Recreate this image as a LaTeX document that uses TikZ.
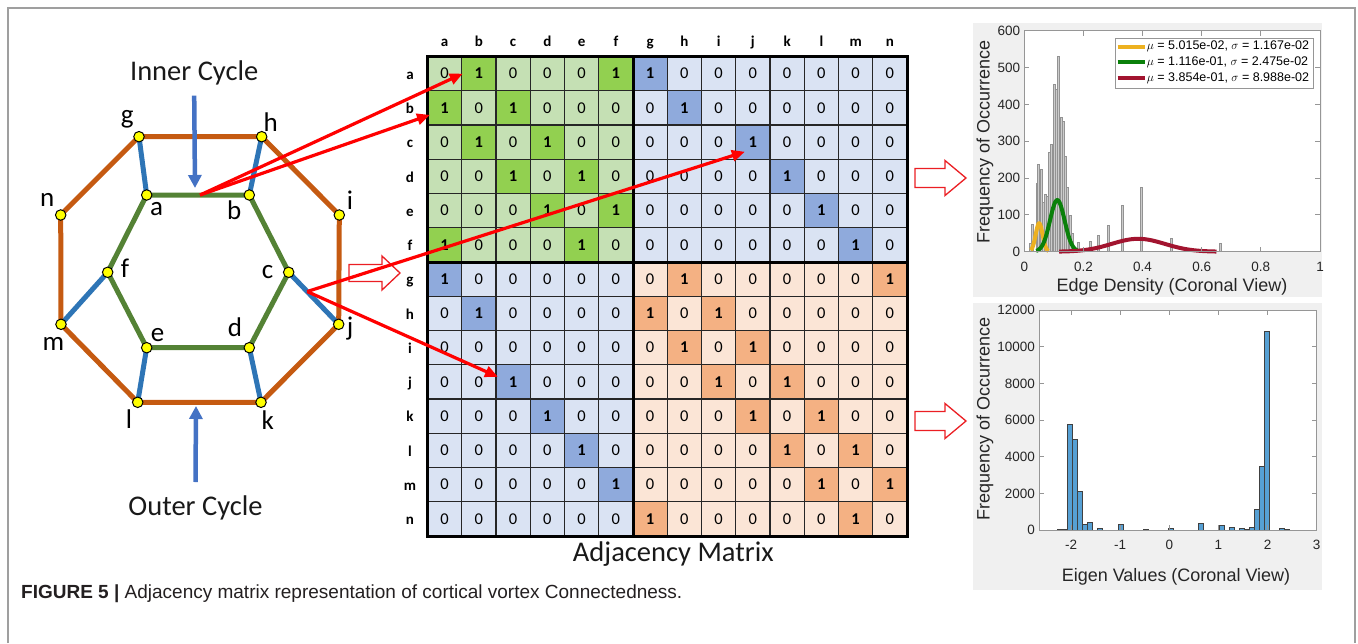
\documentclass[tikz,border=0pt]{standalone}
\usepackage{fontspec}
\setmainfont{Carlito}
\newfontfamily\arialf{Liberation Sans}
\usetikzlibrary{arrows.meta,backgrounds,calc}
\definecolor{orangeE}{RGB}{197,90,17}
\definecolor{greenE}{RGB}{84,130,53}
\definecolor{blueE}{RGB}{46,117,182}
\definecolor{arrowblue}{RGB}{68,114,196}
\definecolor{vyellow}{RGB}{255,255,0}
\definecolor{c1L}{RGB}{197,224,180}
\definecolor{c1D}{RGB}{146,208,80}
\definecolor{c2L}{RGB}{218,227,243}
\definecolor{c2D}{RGB}{143,170,220}
\definecolor{c3L}{RGB}{251,229,214}
\definecolor{c3D}{RGB}{244,177,131}
\definecolor{panel}{RGB}{240,240,240}
\definecolor{axtext}{RGB}{38,38,38}
\definecolor{axline}{RGB}{150,150,150}
\definecolor{myyellow}{RGB}{237,177,32}
\definecolor{mygreen}{RGB}{10,128,10}
\definecolor{mydred}{RGB}{162,20,47}
\definecolor{histblue}{RGB}{86,160,212}
\definecolor{capgray}{RGB}{35,31,32}
\definecolor{pureRed}{RGB}{255,0,0}
\definecolor{hollowred}{RGB}{235,30,35}
\begin{document}
\begin{tikzpicture}[x=1pt,y=-1pt,
  vtx/.style={circle,fill=vyellow,draw=black,line width=1pt,minimum size=10.5pt,inner sep=0pt},
  outeredge/.style={draw=orangeE,line width=5pt},
  inneredge/.style={draw=greenE,line width=5pt},
  spoke/.style={draw=blueE,line width=5pt},
  vlabel/.style={font=\fontsize{27}{30}\selectfont,anchor=base,inner sep=0pt},
  biglabel/.style={font=\fontsize{28.5}{32}\selectfont,anchor=base,inner sep=0pt,text=black!90},
  bluearrow/.style={draw=arrowblue,line width=4.5pt,-{Triangle[length=13pt,width=13pt]}},
  redarrow/.style={draw=pureRed,line width=3.2pt,-{Triangle[length=13pt,width=11pt]}},
  hollow/.style={draw=hollowred,line width=1.3pt,fill=white,line join=miter},
  cell/.style={draw=black!85,line width=1.1pt,minimum size=34.25pt,inner sep=0pt,outer sep=0pt,font=\fontsize{16.5}{18}\selectfont},
  hdr/.style={font=\bfseries\fontsize{15}{17}\selectfont,anchor=base,inner sep=0pt},
  hbar/.style={fill=gray!40,draw=gray!85,line width=0.6pt},
  bbar/.style={fill=histblue,draw=black!75,line width=0.6pt},
  axbox/.style={draw=axline,line width=0.8pt},
  ticklbl/.style={font=\arialf\fontsize{13.5}{15}\selectfont,text=axtext,inner sep=0pt},
  axlabel/.style={font=\arialf\fontsize{18}{20}\selectfont,text=axtext,inner sep=0pt},
  leglbl/.style={font=\arialf\fontsize{12.5}{14}\selectfont,text=black,inner sep=0pt,anchor=west},
  curve/.style={line width=4pt}
]
\useasboundingbox (0,0) rectangle (1358,643);
% frame
\draw[gray!75,line width=1.5pt] (8,643) -- (8,8) -- (1355,8) -- (1355,643);

% ---------------- graph ----------------
\node[vtx] (g) at (139,136.7) {};
\node[vtx] (h) at (261.7,136.7) {};
\node[vtx] (i) at (339.3,215) {};
\node[vtx] (j) at (338.7,324.3) {};
\node[vtx] (k) at (261,402.3) {};
\node[vtx] (l) at (137.7,402.3) {};
\node[vtx] (m) at (61,324.3) {};
\node[vtx] (n) at (60.7,215) {};
\node[vtx] (a) at (146.7,195) {};
\node[vtx] (b) at (249.3,195) {};
\node[vtx] (c) at (288.7,272.3) {};
\node[vtx] (d) at (249.3,347.7) {};
\node[vtx] (e) at (146.7,347.7) {};
\node[vtx] (f) at (107.7,272.3) {};
\begin{scope}[on background layer]
  \draw[outeredge] (g.center) -- (h.center) -- (i.center) -- (j.center) -- (k.center) -- (l.center) -- (m.center) -- (n.center) -- cycle;
  \draw[inneredge] (a.center) -- (b.center) -- (c.center) -- (d.center) -- (e.center) -- (f.center) -- cycle;
  \draw[spoke] (a.center) -- (g.center);
  \draw[spoke] (b.center) -- (h.center);
  \draw[spoke] (c.center) -- (j.center);
  \draw[spoke] (d.center) -- (k.center);
  \draw[spoke] (e.center) -- (l.center);
  \draw[spoke] (f.center) -- (m.center);
\end{scope}
\node[vlabel] (lg) at (127.3,123.3) {g};
\node[vlabel] (lh) at (270.7,131.7) {h};
\node[vlabel] (ln) at (47.3,206) {n};
\node[vlabel] (li) at (350,209.3) {i};
\node[vlabel] (la) at (156.7,215) {a};
\node[vlabel] (lb) at (234.3,219) {b};
\node[vlabel] (lf) at (125,277.3) {f};
\node[vlabel] (lc) at (267.7,278.3) {c};
\node[vlabel] (lm) at (53.3,350) {m};
\node[vlabel] (lj) at (350,335) {j};
\node[vlabel] (le) at (157.7,341) {e};
\node[vlabel] (ld) at (235,336.7) {d};
\node[vlabel] (ll) at (129,428.3) {l};
\node[vlabel] (lk) at (267.7,429.3) {k};

\node[biglabel] (innerlbl) at (194.2,80.7) {Inner Cycle};
\node[biglabel] (outerlbl) at (195.5,515.7) {Outer Cycle};
\coordinate (innertip) at (195,188);
\coordinate (outertip) at (196,406);
\draw[bluearrow] ([yshift=-15pt]innerlbl.base) -- (innertip);
\draw[bluearrow] ([yshift=33.7pt]outerlbl.base) -- (outertip);

% ---------------- matrix ----------------
\foreach \row [count=\r] in {
 {0,1,0,0,0,1,1,0,0,0,0,0,0,0},
 {1,0,1,0,0,0,0,1,0,0,0,0,0,0},
 {0,1,0,1,0,0,0,0,0,1,0,0,0,0},
 {0,0,1,0,1,0,0,0,0,0,1,0,0,0},
 {0,0,0,1,0,1,0,0,0,0,0,1,0,0},
 {1,0,0,0,1,0,0,0,0,0,0,0,1,0},
 {1,0,0,0,0,0,0,1,0,0,0,0,0,1},
 {0,1,0,0,0,0,1,0,1,0,0,0,0,0},
 {0,0,0,0,0,0,0,1,0,1,0,0,0,0},
 {0,0,1,0,0,0,0,0,1,0,1,0,0,0},
 {0,0,0,1,0,0,0,0,0,1,0,1,0,0},
 {0,0,0,0,1,0,0,0,0,0,1,0,1,0},
 {0,0,0,0,0,1,0,0,0,0,0,1,0,1},
 {0,0,0,0,0,0,1,0,0,0,0,0,1,0}} {
  \foreach \v [count=\c] in \row {
    \pgfmathtruncatemacro\blk{ifthenelse(\r<7,ifthenelse(\c<7,1,2),ifthenelse(\c<7,2,3))}
    \edef\cc{c\blk\ifnum\v=1 D\else L\fi}
    \node[cell,fill=\cc] (cell-\r-\c) at ({427.5+34.25*(\c-0.5)},{56.5+34.25*(\r-0.5)}) {\ifnum\v=1 \textbf{1}\else 0\fi};
  }
}
\draw[line width=3pt] (cell-1-1.north west) rectangle (cell-14-14.south east);
\draw[line width=3pt] (cell-1-6.north east) -- (cell-14-6.south east);
\draw[line width=3pt] (cell-6-1.south west) -- (cell-6-14.south east);
\foreach \L [count=\c] in {a,b,c,d,e,f,g,h,i,j,k,l,m,n} {
  \node[hdr] (col-\c) at ({427.5+34.25*(\c-0.5)},46.7) {\L};
  \node[hdr] (row-\c) at (410,{56.5+34.25*(\c-0.5)+5.8}) {\L};
}
\node[biglabel] (adjlbl) at (673.3,561.7) {Adjacency Matrix};

% hollow block arrows
\draw[hollow] (349,264.5) -- (382,264.5) -- (382,256) -- (400,273) -- (382,290) -- (382,281.5) -- (349,281.5) -- cycle;
\draw[hollow] (915,168.5) -- (945,168.5) -- (945,160.5) -- (966,178) -- (945,195.5) -- (945,187.5) -- (915,187.5) -- cycle;
\draw[hollow] (915,411.5) -- (945,411.5) -- (945,403.5) -- (966,421) -- (945,438.5) -- (945,430.5) -- (915,430.5) -- cycle;

% red connectors
\coordinate (abmid) at ($(a)!0.52!(b)$);
\coordinate (cjmid) at ($(c)!0.37!(j)$);
\draw[redarrow] (abmid) -- ([xshift=1pt]cell-1-2.west);
\draw[redarrow] (abmid) -- ([xshift=2.5pt,yshift=-7pt]cell-2-1.west);
\draw[redarrow] (cjmid) -- ([xshift=-8pt,yshift=-9.6pt]cell-3-10.center);
\draw[redarrow] (cjmid) -- ([xshift=2pt,yshift=5pt]cell-10-3.west);

% ---------------- top chart ----------------
\fill[panel] (973,22.7) rectangle (1322,297);
\begin{scope}[shift={(1024.3,251.7)},x=295.7pt,y=0.36833pt]
  \fill[white] (0,0) rectangle (1,600);
  \foreach \xx/\hh in {0.0203/24,0.0284/75,0.0429/185,0.0487/238,0.0565/225,0.0632/135,0.0710/155,0.0778/150,0.0845/270,0.0927/292,0.1015/455,0.1090/440,0.1163/530,0.1241/365,0.1309/355,0.1387/260,0.1468/175,0.1545/100,0.1623/50,0.184/25,0.2019/10,0.2232/28,0.2516/45,0.283/72,0.3304/125,0.397/175,0.4971/36,0.6642/22}
    \draw[hbar] ({\xx-0.0033},0) rectangle ({\xx+0.0033},\hh);
  \draw[curve,myyellow] plot[domain=-2.41:2.73,samples=50,smooth,variable=\u] ({0.05015+0.01167*\u},{77*exp(-0.5*\u*\u)});
  \draw[curve,mygreen] plot[domain=-2.89:2.68,samples=60,smooth,variable=\u] ({0.1116+0.02475*\u},{140*exp(-0.5*\u*\u)});
  \draw[curve,mydred] plot[domain=-2.975:2.944,samples=60,smooth,variable=\u] ({0.3854+0.08988*\u},{35*exp(-0.5*\u*\u)});
  \draw[axbox] (0,0) rectangle (1,600);
  \foreach \t in {0.2,0.4,0.6,0.8} {
    \draw[axbox] (\t,0) -- ++(0,13.6);
    \draw[axbox] (\t,600) -- ++(0,-13.6);
  }
  \foreach \t in {100,200,300,400,500} {
    \draw[axbox] (0,\t) -- ++(0.017,0);
    \draw[axbox] (1,\t) -- ++(-0.017,0);
  }
  \foreach \t/\s [count=\q] in {0/0,0.2/0.2,0.4/0.4,0.6/0.6,0.8/0.8,1/1}
    \node[ticklbl] (tx\q) at (\t,0) [yshift=-15pt] {\s};
  \foreach \t [count=\q] in {0,100,...,600}
    \node[ticklbl,anchor=east] (ty\q) at (0,\t) [xshift=-4pt] {\t};
\end{scope}
\node[axlabel,anchor=base] (xl1) at (1172,291.7) {Edge Density (Coronal View)};
\node[axlabel,rotate=90] (yl1) at (985,141.7) {Frequency of Occurrence};
% legend
\draw[fill=white,draw=axline,line width=0.8pt] (1115.7,38.3) rectangle (1313.3,88.3);
\coordinate (lg1a) at (1117.5,46.7); \coordinate (lg1b) at (1145,46.7);
\coordinate (lg2a) at (1117.5,62.3); \coordinate (lg2b) at (1145,62.3);
\coordinate (lg3a) at (1117.5,78.3); \coordinate (lg3b) at (1145,78.3);
\draw[curve,myyellow] (lg1a) -- (lg1b);
\draw[curve,mygreen] (lg2a) -- (lg2b);
\draw[curve,mydred] (lg3a) -- (lg3b);
\node[leglbl] (lt1) at (1146.7,46.7) {$\mu$ = 5.015e-02, $\sigma$ = 1.167e-02};
\node[leglbl] (lt2) at (1146.7,62.3) {$\mu$ = 1.116e-01, $\sigma$ = 2.475e-02};
\node[leglbl] (lt3) at (1146.7,78.3) {$\mu$ = 3.854e-01, $\sigma$ = 8.988e-02};

% ---------------- bottom chart ----------------
\fill[panel] (973,303.3) rectangle (1322,590);
\begin{scope}[shift={(1169.3,530)},x=49.1pt,y=0.018333pt]
  \fill[white] (-2.65,0) rectangle (3,12000);
  \foreach \k/\h in {-3/10,-2/30,-1/20,0/5750,1/4950,2/2100,3/300,4/400,6/100,10/300,15/60,20/80,26/350,30/250,32/150,34/100,35/60,36/150,37/1150,38/3500,39/10850,42/100,43/30}
    \draw[bbar] ({-2.077+0.1029*\k},0) rectangle ++(0.1029,\h);
  \draw[axbox] (-2.65,0) rectangle (3,12000);
  \foreach \t in {-2,-1,0,1,2} {
    \draw[axbox] (\t,0) -- ++(0,272);
    \draw[axbox] (\t,12000) -- ++(0,-272);
  }
  \foreach \t in {2000,4000,6000,8000,10000} {
    \draw[axbox] (-2.65,\t) -- ++(0.1,0);
    \draw[axbox] (3,\t) -- ++(-0.1,0);
  }
  \foreach \t [count=\q] in {-2,-1,0,1,2,3}
    \node[ticklbl] (bx\q) at (\t,0) [yshift=-15pt] {\t};
  \foreach \t [count=\q] in {0,2000,...,12000}
    \node[ticklbl,anchor=east] (by\q) at (-2.65,\t) [xshift=-4pt] {\t};
\end{scope}
\node[axlabel,anchor=base] (xl2) at (1176,581) {Eigen Values (Coronal View)};
\node[axlabel,rotate=90] (yl2) at (985,419) {Frequency of Occurrence};

% caption
\node[anchor=base west,inner sep=0pt,font=\arialf\fontsize{19}{22}\selectfont,text=capgray] (caption) at (21,598) {\textbf{FIGURE 5 |} Adjacency matrix representation of cortical vortex Connectedness.};
\end{tikzpicture}
\end{document}
